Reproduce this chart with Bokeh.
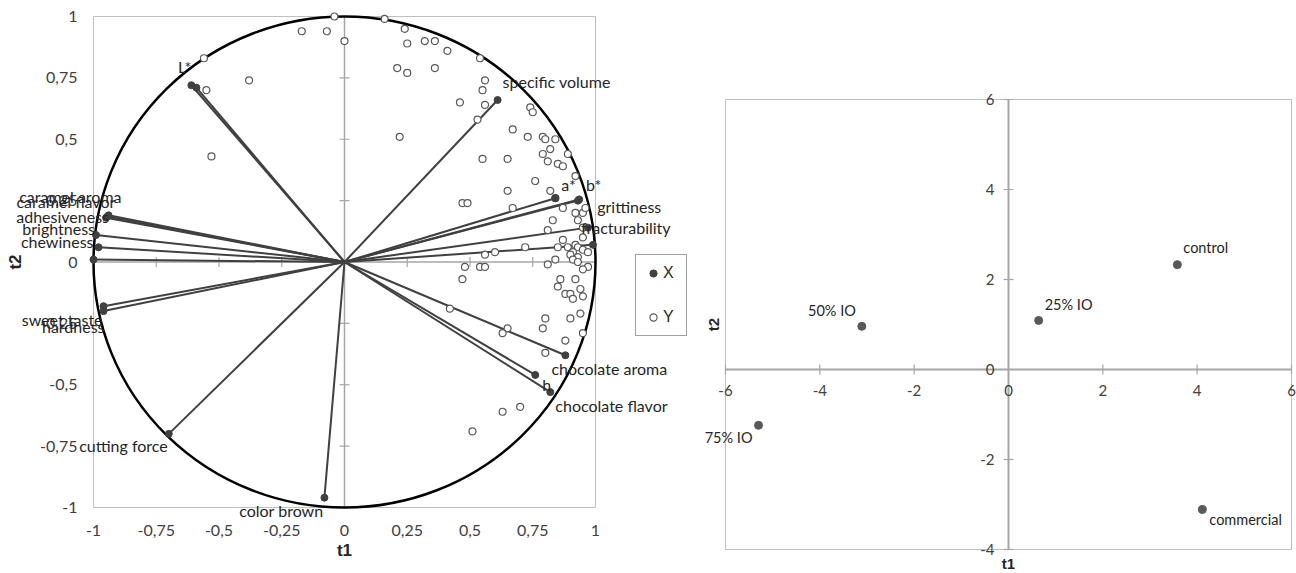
import math
from bokeh.plotting import figure
from bokeh.models import (ColumnDataSource, LabelSet, Label, Legend, LegendItem, Range1d)
from bokeh.core.properties import value
from bokeh.layouts import row
from bokeh.embed import file_html
from bokeh.resources import INLINE

# ---------------- data: correlation circle (left) ----------------
x_names = ["L*", "", "specific volume", "caramel aroma", "caramel flavor", "adhesiveness",
           "brightness", "chewiness", "", "sweet taste", "hardness", "cutting force",
           "color brown", "chocolate aroma", "h", "chocolate flavor", "a*", "b*",
           "grittiness", "fracturability", ""]
x_t1 = [-0.61, -0.59, 0.61, -0.94, -0.945, -0.95, -0.99, -0.98, -1.0, -0.96, -0.96, -0.70,
        -0.08, 0.88, 0.76, 0.82, 0.84, 0.93, 0.935, 0.97, 0.99]
x_t2 = [0.72, 0.71, 0.66, 0.19, 0.185, 0.18, 0.11, 0.06, 0.01, -0.18, -0.20, -0.70,
        -0.96, -0.38, -0.46, -0.53, 0.26, 0.25, 0.255, 0.14, 0.07]

y_t1 = [-0.04, -0.17, -0.07, 0.00, 0.16, 0.21, 0.22, -0.56, -0.38, -0.55, -0.53, 0.24, 0.25,
        0.32, 0.36, 0.41, 0.54, 0.25, 0.36, 0.56, 0.55, 0.46, 0.56, 0.53, 0.67, 0.74, 0.75,
        0.73, 0.79, 0.80, 0.84, 0.82, 0.55, 0.65, 0.79, 0.89, 0.81, 0.85, 0.87, 0.76, 0.65,
        0.82, 0.92, 0.47, 0.49, 0.67, 0.84, 0.87, 0.92, 0.95, 0.96, 0.93, 0.83, 0.81, 0.95,
        0.95, 0.87, 0.89, 0.92, 0.93, 0.72, 0.85, 0.56, 0.60, 0.91, 0.95, 0.97, 0.90, 0.93,
        0.91, 0.84, 0.81, 0.93, 0.97, 0.95, 0.48, 0.54, 0.56, 0.47, 0.86, 0.92, 0.85, 0.94,
        0.88, 0.90, 0.91, 0.95, 0.42, 0.94, 0.80, 0.90, 0.79, 0.65, 0.63, 0.95, 0.88, 0.80,
        0.70, 0.63, 0.51]
y_t2 = [1.00, 0.94, 0.94, 0.90, 0.99, 0.79, 0.51, 0.83, 0.74, 0.70, 0.43, 0.95, 0.89,
        0.90, 0.90, 0.86, 0.83, 0.77, 0.79, 0.74, 0.70, 0.65, 0.64, 0.58, 0.54, 0.63, 0.61,
        0.51, 0.51, 0.50, 0.50, 0.46, 0.42, 0.42, 0.44, 0.44, 0.41, 0.40, 0.39, 0.33, 0.29,
        0.29, 0.35, 0.24, 0.24, 0.22, 0.26, 0.22, 0.20, 0.20, 0.22, 0.17, 0.17, 0.13, 0.14,
        0.10, 0.09, 0.06, 0.07, 0.06, 0.06, 0.06, 0.03, 0.04, 0.04, 0.05, 0.04, 0.03, 0.02,
        0.01, 0.01, -0.01, 0.00, -0.02, -0.03, -0.02, -0.02, -0.02, -0.07, -0.07, -0.07,
        -0.10, -0.11, -0.13, -0.13, -0.15, -0.14, -0.19, -0.21, -0.23, -0.23, -0.27, -0.27,
        -0.29, -0.29, -0.32, -0.37, -0.59, -0.61, -0.69]

left_ticks = [-1, -0.75, -0.5, -0.25, 0, 0.25, 0.5, 0.75, 1]
left_tick_labels = ["-1", "-0,75", "-0,5", "-0,25", "0", "0,25", "0,5", "0,75", "1"]

# ---------------- data: scores (right) ----------------
samples = ["control", "25% IO", "50% IO", "75% IO", "commercial"]
s_t1 = [3.58, 0.64, -3.11, -5.30, 4.11]
s_t2 = [2.33, 1.09, 0.96, -1.24, -3.11]
right_xticks = [-6, -4, -2, 0, 2, 4, 6]
right_yticks = [-4, -2, 0, 2, 4, 6]

# ---------------- label placement (screen px, +down) ----------------
x_lab_dx = [0, 0, 5, 13, 8, 3, -1, -5, 0, -1, 1, -1, -1, -14, 7, 5, 6, 8, 18, -7, 0]
x_lab_dy = [-19, 0, -18, -19, -15, -1, -6, -6, 0, 13, 15, 12, 13, 13, 10, 13, -14, -16, 7, 0, 0]
x_lab_align = ["right", "left", "left", "right", "right", "right", "right", "right", "left",
               "right", "right", "right", "right", "left", "left", "left", "left", "left",
               "left", "left", "left"]
s_lab_dx = [6, 6, -6, -6, 7]
s_lab_dy = [-17, -16, -16, 12, 10]
s_lab_align = ["left", "left", "right", "right", "left"]

FONT = value("Lato")
GRAY_AX = "#A6A6A6"
FRAME = "#BFBFBF"
TXT = "#262626"


def span_range(v0, v1, p0, p1, total):
    """range so that v0 sits at pixel p0 and v1 at pixel p1 of a total-pixel extent"""
    scale = (p1 - p0) / (v1 - v0)
    return Range1d(v0 - p0 / scale, v1 + (total - p1) / scale)


def span_range_y(vmin, vmax, ptop, pbot, total):
    scale = (pbot - ptop) / (vmax - vmin)
    return Range1d(vmin - (total - pbot) / scale, vmax + ptop / scale)


def bare_figure(w, h, xr, yr):
    f = figure(width=w, height=h, x_range=xr, y_range=yr, x_axis_type=None,
               y_axis_type=None, title=None, output_backend="svg", toolbar_location=None,
               min_border=0, min_border_left=0, min_border_right=0, min_border_top=0,
               min_border_bottom=0)
    f.grid.visible = False
    f.outline_line_color = None
    return f


H = 572

# ================= left figure =================
W1 = 692
lx0, lx1 = min(left_ticks), max(left_ticks)
p1 = bare_figure(W1, H, span_range(lx0, lx1, 93, 595, W1),
                 span_range_y(lx0, lx1, 16, 507, H))

p1.quad(left=[lx0], right=[lx1], bottom=[lx0], top=[lx1], fill_color=None,
        line_color=FRAME, line_width=1)
p1.segment(x0=[lx0, 0], y0=[0, lx0], x1=[lx1, 0], y1=[0, lx1], line_color=GRAY_AX,
           line_width=1.5)
inner = [t for t in left_ticks if t not in (lx0, 0, lx1)]
p1.scatter(x=inner, y=[0] * len(inner), marker="dash", size=10, angle=math.pi / 2,
           line_color=GRAY_AX, line_width=1.2)
p1.scatter(x=[0] * len(inner), y=inner, marker="dash", size=10,
           line_color=GRAY_AX, line_width=1.2)

lt_x = ColumnDataSource(dict(x=left_ticks, y=[lx0] * len(left_ticks), t=left_tick_labels))
lt_y = ColumnDataSource(dict(x=[lx0] * len(left_ticks), y=left_ticks, t=left_tick_labels))
p1.add_layout(LabelSet(x="x", y="y", text="t", source=lt_x, y_offset=-23,
                       text_align="center", text_baseline="middle", text_font=FONT,
                       text_font_size="16px", text_color="#404040"))
p1.add_layout(LabelSet(x="x", y="y", text="t", source=lt_y, x_offset=-16,
                       text_align="right", text_baseline="middle", text_font=FONT,
                       text_font_size="16px", text_color="#404040"))
p1.add_layout(Label(x=0, y=lx0, text="t1", y_offset=-43, text_align="center",
                    text_baseline="middle", text_font="Liberation Sans",
                    text_font_style="bold", text_font_size="17px", text_color=TXT))
p1.add_layout(Label(x=lx0, y=0, text="t2", x_offset=-78, angle=math.pi / 2,
                    text_align="center", text_baseline="middle", text_font="Liberation Sans",
                    text_font_style="bold", text_font_size="17px", text_color=TXT))

circle_radius = 1
p1.ellipse(x=[0], y=[0], width=[2 * circle_radius], height=[2 * circle_radius],
           fill_color=None, line_color="black", line_width=2.5)

xsrc = ColumnDataSource(dict(x=x_t1, y=x_t2, name=x_names, dx=x_lab_dx,
                             dy=[-d for d in x_lab_dy], align=x_lab_align))
p1.segment(x0=0, y0=0, x1="x", y1="y", source=xsrc, line_color="#404040", line_width=2)
y_r = p1.scatter(x=y_t1, y=y_t2, size=7, fill_color="white", line_color="#595959",
                 line_width=1.2)
x_r = p1.scatter(x="x", y="y", source=xsrc, size=7, fill_color="#404040",
                 line_color="#404040")
p1.add_layout(LabelSet(x="x", y="y", text="name", source=xsrc, x_offset="dx", y_offset="dy",
                       text_align="align", text_baseline="middle", text_font=FONT,
                       text_font_size="16px", text_color=TXT))

legend = Legend(items=[LegendItem(label="X", renderers=[x_r]),
                       LegendItem(label="Y", renderers=[y_r])],
                location=(635, H - 336), orientation="vertical",
                border_line_color="#404040", border_line_width=1,
                label_text_font="Liberation Sans", label_text_font_size="16px",
                label_text_color=TXT, glyph_width=18, glyph_height=20,
                label_height=20, label_width=15, spacing=24, padding=8, margin=0,
                label_standoff=1, background_fill_color="white", background_fill_alpha=1)
p1.add_layout(legend)

# ================= right figure =================
W2 = 1296 - W1
rx0, rx1 = min(right_xticks), max(right_xticks)
ry0, ry1 = min(right_yticks), max(right_yticks)
p2 = bare_figure(W2, H, span_range(rx0, rx1, 725 - W1, 1291 - W1, W2),
                 span_range_y(ry0, ry1, 99, 549, H))

p2.quad(left=[rx0], right=[rx1], bottom=[ry0], top=[ry1], fill_color=None,
        line_color=FRAME, line_width=1)
p2.segment(x0=[rx0, 0], y0=[0, ry0], x1=[rx1, 0], y1=[0, ry1], line_color=GRAY_AX,
           line_width=2)
rx = [t for t in right_xticks if t != 0]
ry = [t for t in right_yticks if t != 0]
p2.scatter(x=rx, y=[0] * len(rx), marker="dash", size=10, angle=math.pi / 2,
           line_color=GRAY_AX, line_width=1.2)
p2.scatter(x=[0] * len(ry), y=ry, marker="dash", size=10, line_color=GRAY_AX, line_width=1.2)

xt_src = ColumnDataSource(dict(x=right_xticks, y=[0] * len(right_xticks),
                               t=[str(v) for v in right_xticks]))
yt_src = ColumnDataSource(dict(x=[0] * len(right_yticks), y=right_yticks,
                               t=[str(v) for v in right_yticks]))
p2.add_layout(LabelSet(x="x", y="y", text="t", source=xt_src, y_offset=-21,
                       text_align="center", text_baseline="middle", text_font=FONT,
                       text_font_size="15px", text_color="#404040"))
p2.add_layout(LabelSet(x="x", y="y", text="t", source=yt_src, x_offset=-14,
                       text_align="right", text_baseline="middle", text_font=FONT,
                       text_font_size="15px", text_color="#404040"))
p2.add_layout(Label(x=0, y=ry0, text="t1", y_offset=-14, text_align="center",
                    text_baseline="middle", text_font="Liberation Sans",
                    text_font_style="bold", text_font_size="15px", text_color=TXT))
p2.add_layout(Label(x=rx0, y=(ry0 + ry1) / 2, text="t2", x_offset=-12, angle=math.pi / 2,
                    text_align="center", text_baseline="middle", text_font="Liberation Sans",
                    text_font_style="bold", text_font_size="15px", text_color=TXT))

ssrc = ColumnDataSource(dict(x=s_t1, y=s_t2, name=samples, dx=s_lab_dx,
                             dy=[-d for d in s_lab_dy], align=s_lab_align))
p2.scatter(x="x", y="y", source=ssrc, size=8, fill_color="#595959", line_color="#595959")
p2.add_layout(LabelSet(x="x", y="y", text="name", source=ssrc, x_offset="dx", y_offset="dy",
                       text_align="align", text_baseline="middle", text_font=FONT,
                       text_font_size="14.5px", text_color=TXT))

layout = row(p1, p2)
open("out.html", "w").write(file_html(layout, INLINE))
